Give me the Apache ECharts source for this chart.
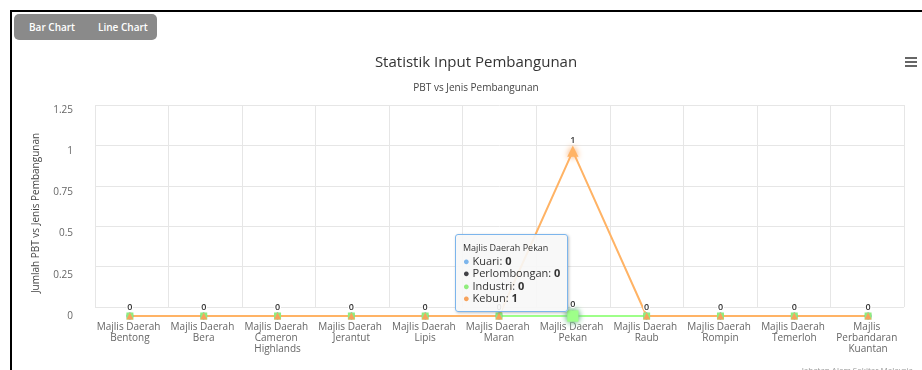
<!DOCTYPE html>
<html>
<head>
<meta charset="utf-8">
<script src="https://cdn.jsdelivr.net/npm/echarts@6/dist/echarts.min.js"></script>
<style>
  html, body { margin: 0; padding: 0; background: #fff; }
  #wrap { position: relative; width: 922px; height: 370px; overflow: hidden; font-family: 'Open Sans', sans-serif; }
  #main { position: absolute; left: 0; top: 0; width: 922px; height: 370px; }
  #frame { position: absolute; left: 10px; top: 10px; width: 930px; height: 400px; border-top: 2px solid #000; border-left: 2px solid #000; pointer-events: none; }
  #btns { position: absolute; left: 14px; top: 14px; width: 143px; height: 26px; background: #8a8a8a; border-radius: 5px; }
  #btns span { position: absolute; top: 6px; color: #fff; font-size: 10px; font-weight: 600; }
</style>
</head>
<body>
<div id="wrap">
  <div id="main"></div>
  <div id="frame"></div>
  <div id="btns"><span style="left:15px">Bar Chart</span><span style="left:84px">Line Chart</span></div>
</div>
<script>
var categories = [
  'Majlis Daerah Bentong', 'Majlis Daerah Bera', 'Majlis Daerah Cameron Highlands',
  'Majlis Daerah Jerantut', 'Majlis Daerah Lipis', 'Majlis Daerah Maran',
  'Majlis Daerah Pekan', 'Majlis Daerah Raub', 'Majlis Daerah Rompin',
  'Majlis Daerah Temerloh', 'Majlis Perbandaran Kuantan'
];
var kuari        = [0, 0, 0, 0, 0, 0, 0, 0, 0, 0, 0];
var perlombongan = [0, 0, 0, 0, 0, 0, 0, 0, 0, 0, 0];
var industri     = [0, 0, 0, 0, 0, 0, 0, 0, 0, 0, 0];
var kebun        = [0, 0, 0, 0, 0, 0, 1, 0, 0, 0, 0];
var yTicks = { min: 0, max: 1.25, interval: 0.25 };
var hoverIndex = 6;

var chartDom = document.getElementById('main');
var myChart = echarts.init(chartDom);

function makeSeries(name, data, color, symbol, labels) {
  return {
    name: name,
    type: 'line',
    xAxisIndex: 0,
    yAxisIndex: 0,
    data: data,
    symbol: symbol,
    symbolSize: 7,
    showSymbol: true,
    lineStyle: { color: color, width: 2 },
    itemStyle: { color: color },
    label: {
      show: labels,
      position: 'top',
      distance: 1,
      fontSize: 9,
      fontWeight: 600,
      color: '#333',
      textBorderColor: '#fff',
      textBorderWidth: 2
    },
    emphasis: {
      scale: 1.6,
      itemStyle: { shadowBlur: 6, shadowColor: color }
    }
  };
}

var option = {
  animation: false,
  textStyle: { fontFamily: 'Open Sans' },
  title: [
    { text: 'Statistik Input Pembangunan', left: 471, textAlign: 'center', top: 50,
      textStyle: { fontSize: 15, fontWeight: 'normal', color: '#333' } },
    { text: 'PBT vs Jenis Pembangunan', left: 471, textAlign: 'center', top: 78,
      textStyle: { fontSize: 10, fontWeight: 'normal', color: '#444' } },
    { text: 'Jabatan Alam Sekitar Malaysia', right: 4, top: 362,
      textStyle: { fontSize: 8, fontWeight: 'normal', color: '#999' } }
  ],
  graphic: [
    { type: 'rect', right: 5, top: 57, shape: { width: 12, height: 2 }, style: { fill: '#666' } },
    { type: 'rect', right: 5, top: 61, shape: { width: 12, height: 2 }, style: { fill: '#666' } },
    { type: 'rect', right: 5, top: 65, shape: { width: 12, height: 2 }, style: { fill: '#666' } }
  ],
  tooltip: {
    trigger: 'axis',
    alwaysShowContent: true,
    transitionDuration: 0,
    axisPointer: { type: 'none' },
    position: [455, 234],
    backgroundColor: 'rgba(247,247,247,0.9)',
    borderColor: '#7cb5ec',
    borderWidth: 1,
    padding: [6, 7],
    extraCssText: 'border-radius:3px;box-shadow:1px 1px 3px rgba(0,0,0,0.25);line-height:12.5px;',
    textStyle: { fontSize: 11, color: '#333', fontFamily: 'Open Sans' },
    formatter: function (params) {
      var s = '<span style="font-size:9px">' + params[0].name + '</span><br/>';
      params.forEach(function (p) {
        s += '<span style="color:' + p.color + ';font-size:11px">\u25CF</span> ' +
          p.seriesName + ': <b>' + p.value + '</b><br/>';
      });
      return s;
    }
  },
  grid: [
    { left: 93, right: 17, top: 110, bottom: 54 },
    { left: 95, right: 18, top: 105, bottom: 63 }
  ],
  xAxis: [
    {
      type: 'category', gridIndex: 0, data: categories, boundaryGap: true,
      axisLine: { show: false }, axisTick: { show: false }, splitLine: { show: false },
      axisLabel: {
        interval: 0, margin: 6, fontSize: 10, color: '#666', lineHeight: 11,
        width: 72, overflow: 'break', align: 'center'
      }
    },
    {
      type: 'category', gridIndex: 1, data: categories, boundaryGap: true,
      axisLine: { show: false }, axisTick: { show: false }, axisLabel: { show: false },
      splitLine: { show: true, interval: 0, lineStyle: { color: '#e6e6e6', width: 1 } }
    }
  ],
  yAxis: [
    {
      type: 'value', gridIndex: 0, min: yTicks.min, max: yTicks.max, interval: yTicks.interval,
      name: 'Jumlah PBT vs Jenis Pembangunan', nameLocation: 'middle', nameGap: 52, nameRotate: 90,
      nameTextStyle: { fontSize: 10, color: '#444' },
      axisLine: { show: false }, axisTick: { show: false }, splitLine: { show: false },
      axisLabel: { margin: 20, fontSize: 10, color: '#666' }
    },
    {
      type: 'value', gridIndex: 1, min: yTicks.min, max: yTicks.max, interval: yTicks.interval,
      axisLine: { show: false }, axisTick: { show: false }, axisLabel: { show: false },
      splitLine: { show: true, lineStyle: { color: '#e6e6e6', width: 1 } }
    }
  ],
  series: [
    makeSeries('Kuari', kuari, '#7cb5ec', 'circle', false),
    makeSeries('Perlombongan', perlombongan, '#434348', 'diamond', false),
    makeSeries('Industri', industri, '#90ed7d', 'rect', true),
    makeSeries('Kebun', kebun, '#f7a35c', 'triangle', true)
  ]
};

option && myChart.setOption(option);
myChart.dispatchAction({ type: 'showTip', seriesIndex: 3, dataIndex: hoverIndex });
myChart.dispatchAction({ type: 'highlight', seriesIndex: [2, 3], dataIndex: hoverIndex });
</script>
</body>
</html>
